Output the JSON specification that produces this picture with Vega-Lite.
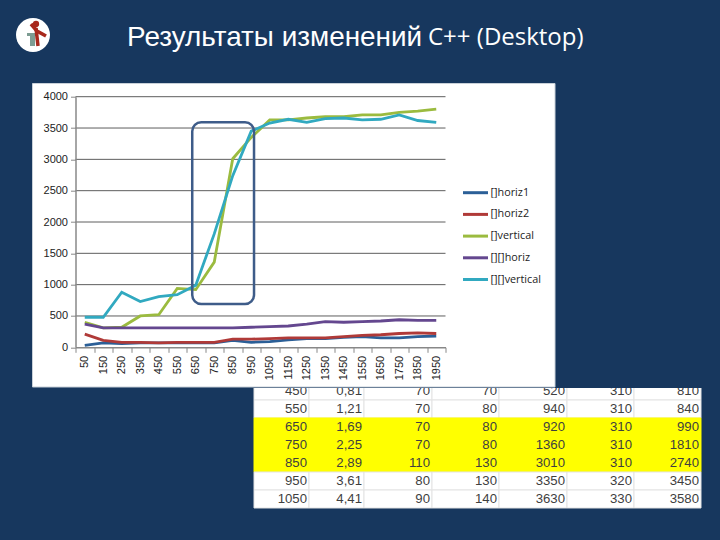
{
"$schema":"https://vega.github.io/schema/vega-lite/v6.json",
"width":370,"height":250.6,"autosize":"none",
"padding":{"left":75.5,"top":96.7,"right":274.5,"bottom":192.7},
"background":"#17375e",
"config":{"view":{"stroke":null}},
"datasets":{
"series":[
{"size":"50","series":"[]horiz1","v":30},{"size":"150","series":"[]horiz1","v":70},{"size":"250","series":"[]horiz1","v":60},{"size":"350","series":"[]horiz1","v":70},{"size":"450","series":"[]horiz1","v":70},{"size":"550","series":"[]horiz1","v":70},{"size":"650","series":"[]horiz1","v":70},{"size":"750","series":"[]horiz1","v":70},{"size":"850","series":"[]horiz1","v":110},{"size":"950","series":"[]horiz1","v":80},{"size":"1050","series":"[]horiz1","v":90},{"size":"1150","series":"[]horiz1","v":120},{"size":"1250","series":"[]horiz1","v":140},{"size":"1350","series":"[]horiz1","v":140},{"size":"1450","series":"[]horiz1","v":160},{"size":"1550","series":"[]horiz1","v":170},{"size":"1650","series":"[]horiz1","v":150},{"size":"1750","series":"[]horiz1","v":150},{"size":"1850","series":"[]horiz1","v":170},{"size":"1950","series":"[]horiz1","v":180},
{"size":"50","series":"[]horiz2","v":210},{"size":"150","series":"[]horiz2","v":110},{"size":"250","series":"[]horiz2","v":80},{"size":"350","series":"[]horiz2","v":80},{"size":"450","series":"[]horiz2","v":70},{"size":"550","series":"[]horiz2","v":80},{"size":"650","series":"[]horiz2","v":80},{"size":"750","series":"[]horiz2","v":80},{"size":"850","series":"[]horiz2","v":130},{"size":"950","series":"[]horiz2","v":130},{"size":"1050","series":"[]horiz2","v":140},{"size":"1150","series":"[]horiz2","v":150},{"size":"1250","series":"[]horiz2","v":150},{"size":"1350","series":"[]horiz2","v":150},{"size":"1450","series":"[]horiz2","v":170},{"size":"1550","series":"[]horiz2","v":190},{"size":"1650","series":"[]horiz2","v":200},{"size":"1750","series":"[]horiz2","v":220},{"size":"1850","series":"[]horiz2","v":230},{"size":"1950","series":"[]horiz2","v":220},
{"size":"50","series":"[]vertical","v":400},{"size":"150","series":"[]vertical","v":310},{"size":"250","series":"[]vertical","v":320},{"size":"350","series":"[]vertical","v":500},{"size":"450","series":"[]vertical","v":520},{"size":"550","series":"[]vertical","v":940},{"size":"650","series":"[]vertical","v":920},{"size":"750","series":"[]vertical","v":1360},{"size":"850","series":"[]vertical","v":3010},{"size":"950","series":"[]vertical","v":3350},{"size":"1050","series":"[]vertical","v":3630},{"size":"1150","series":"[]vertical","v":3630},{"size":"1250","series":"[]vertical","v":3660},{"size":"1350","series":"[]vertical","v":3680},{"size":"1450","series":"[]vertical","v":3680},{"size":"1550","series":"[]vertical","v":3710},{"size":"1650","series":"[]vertical","v":3710},{"size":"1750","series":"[]vertical","v":3750},{"size":"1850","series":"[]vertical","v":3770},{"size":"1950","series":"[]vertical","v":3800},
{"size":"50","series":"[][]horiz","v":370},{"size":"150","series":"[][]horiz","v":310},{"size":"250","series":"[][]horiz","v":310},{"size":"350","series":"[][]horiz","v":310},{"size":"450","series":"[][]horiz","v":310},{"size":"550","series":"[][]horiz","v":310},{"size":"650","series":"[][]horiz","v":310},{"size":"750","series":"[][]horiz","v":310},{"size":"850","series":"[][]horiz","v":310},{"size":"950","series":"[][]horiz","v":320},{"size":"1050","series":"[][]horiz","v":330},{"size":"1150","series":"[][]horiz","v":340},{"size":"1250","series":"[][]horiz","v":370},{"size":"1350","series":"[][]horiz","v":410},{"size":"1450","series":"[][]horiz","v":400},{"size":"1550","series":"[][]horiz","v":410},{"size":"1650","series":"[][]horiz","v":420},{"size":"1750","series":"[][]horiz","v":440},{"size":"1850","series":"[][]horiz","v":430},{"size":"1950","series":"[][]horiz","v":430},
{"size":"50","series":"[][]vertical","v":480},{"size":"150","series":"[][]vertical","v":480},{"size":"250","series":"[][]vertical","v":880},{"size":"350","series":"[][]vertical","v":730},{"size":"450","series":"[][]vertical","v":810},{"size":"550","series":"[][]vertical","v":840},{"size":"650","series":"[][]vertical","v":990},{"size":"750","series":"[][]vertical","v":1810},{"size":"850","series":"[][]vertical","v":2740},{"size":"950","series":"[][]vertical","v":3450},{"size":"1050","series":"[][]vertical","v":3580},{"size":"1150","series":"[][]vertical","v":3640},{"size":"1250","series":"[][]vertical","v":3590},{"size":"1350","series":"[][]vertical","v":3650},{"size":"1450","series":"[][]vertical","v":3660},{"size":"1550","series":"[][]vertical","v":3630},{"size":"1650","series":"[][]vertical","v":3640},{"size":"1750","series":"[][]vertical","v":3710},{"size":"1850","series":"[][]vertical","v":3620},{"size":"1950","series":"[][]vertical","v":3590}
],
"table":[
{"size":"450","col":0,"end":1,"t":"450"},{"size":"450","col":1,"end":2,"t":"0,81"},{"size":"450","col":2,"end":3,"t":"70"},{"size":"450","col":3,"end":4,"t":"70"},{"size":"450","col":4,"end":5,"t":"520"},{"size":"450","col":5,"end":6,"t":"310"},{"size":"450","col":6,"end":7,"t":"810"},
{"size":"550","col":0,"end":1,"t":"550"},{"size":"550","col":1,"end":2,"t":"1,21"},{"size":"550","col":2,"end":3,"t":"70"},{"size":"550","col":3,"end":4,"t":"80"},{"size":"550","col":4,"end":5,"t":"940"},{"size":"550","col":5,"end":6,"t":"310"},{"size":"550","col":6,"end":7,"t":"840"},
{"size":"650","col":0,"end":1,"t":"650","hl":true},{"size":"650","col":1,"end":2,"t":"1,69","hl":true},{"size":"650","col":2,"end":3,"t":"70","hl":true},{"size":"650","col":3,"end":4,"t":"80","hl":true},{"size":"650","col":4,"end":5,"t":"920","hl":true},{"size":"650","col":5,"end":6,"t":"310","hl":true},{"size":"650","col":6,"end":7,"t":"990","hl":true},
{"size":"750","col":0,"end":1,"t":"750","hl":true},{"size":"750","col":1,"end":2,"t":"2,25","hl":true},{"size":"750","col":2,"end":3,"t":"70","hl":true},{"size":"750","col":3,"end":4,"t":"80","hl":true},{"size":"750","col":4,"end":5,"t":"1360","hl":true},{"size":"750","col":5,"end":6,"t":"310","hl":true},{"size":"750","col":6,"end":7,"t":"1810","hl":true},
{"size":"850","col":0,"end":1,"t":"850","hl":true},{"size":"850","col":1,"end":2,"t":"2,89","hl":true},{"size":"850","col":2,"end":3,"t":"110","hl":true},{"size":"850","col":3,"end":4,"t":"130","hl":true},{"size":"850","col":4,"end":5,"t":"3010","hl":true},{"size":"850","col":5,"end":6,"t":"310","hl":true},{"size":"850","col":6,"end":7,"t":"2740","hl":true},
{"size":"950","col":0,"end":1,"t":"950"},{"size":"950","col":1,"end":2,"t":"3,61"},{"size":"950","col":2,"end":3,"t":"80"},{"size":"950","col":3,"end":4,"t":"130"},{"size":"950","col":4,"end":5,"t":"3350"},{"size":"950","col":5,"end":6,"t":"320"},{"size":"950","col":6,"end":7,"t":"3450"},
{"size":"1050","col":0,"end":1,"t":"1050"},{"size":"1050","col":1,"end":2,"t":"4,41"},{"size":"1050","col":2,"end":3,"t":"90"},{"size":"1050","col":3,"end":4,"t":"140"},{"size":"1050","col":4,"end":5,"t":"3630"},{"size":"1050","col":5,"end":6,"t":"330"},{"size":"1050","col":6,"end":7,"t":"3580"}
]
},
"resolve":{"scale":{"x":"independent","y":"independent","color":"independent"}},
"layer":[
{"data":{"name":"table"},"mark":{"type":"rect"},
 "encoding":{
  "x":{"field":"col","type":"quantitative","axis":null,"scale":{"domain":[0,1,2,3,4,5,6,7],"range":[178.5,233.5,288.5,356.5,423.5,491.5,558.5,625.5]}},
  "x2":{"field":"end"},
  "y":{"field":"size","type":"nominal","axis":null,"sort":null,"scale":{"type":"band","domain":["450","550","650","750","850","950","1050"],"range":[285.3,411.3],"paddingInner":0,"paddingOuter":0}},
  "fill":{"condition":{"test":"datum.hl","value":"#ffff00"},"value":"#ffffff"},
  "stroke":{"condition":{"test":"datum.hl","value":"#ffff00"},"value":"#e3e3e3"}}},
{"data":{"name":"table"},"mark":{"type":"text","align":"right","baseline":"middle","dx":-2,"font":"Liberation Sans","fontSize":13.2,"color":"#3f3f3f"},
 "encoding":{
  "x":{"field":"end","type":"quantitative","axis":null,"scale":{"domain":[0,1,2,3,4,5,6,7],"range":[178.5,233.5,288.5,356.5,423.5,491.5,558.5,625.5]}},
  "y":{"field":"size","type":"nominal","axis":null,"sort":null,"scale":{"type":"band","domain":["450","550","650","750","850","950","1050"],"range":[285.3,411.3],"paddingInner":0,"paddingOuter":0}},
  "text":{"field":"t"}}},
{"data":{"values":[{"a":0,"b":720,"c":370,"d":388}]},"mark":{"type":"rect","fill":"#17375e"},
 "encoding":{"x":{"field":"a","type":"quantitative","axis":null,"scale":{"domain":[0,720],"range":[-75.5,644.5]}},"x2":{"field":"b"},"y":{"field":"c","type":"quantitative","axis":null,"scale":{"domain":[0,540],"range":[-96.7,443.3]}},"y2":{"field":"d"}}},
{"data":{"values":[{"a":32.5,"b":555,"c":83.5,"d":387}]},"mark":{"type":"rect","fill":"#ffffff","stroke":"#c8d0d8","strokeWidth":1},
 "encoding":{"x":{"field":"a","type":"quantitative","axis":null,"scale":{"domain":[0,720],"range":[-75.5,644.5]}},"x2":{"field":"b"},"y":{"field":"c","type":"quantitative","axis":null,"scale":{"domain":[0,540],"range":[-96.7,443.3]}},"y2":{"field":"d"}}},
{"data":{"values":[{"x":33,"y":35}]},"mark":{"type":"point","filled":true,"fill":"#ffffff","stroke":null,"opacity":1,"size":1156},
 "encoding":{"x":{"field":"x","type":"quantitative","axis":null,"scale":{"domain":[0,720],"range":[-75.5,644.5]}},"y":{"field":"y","type":"quantitative","axis":null,"scale":{"domain":[0,540],"range":[-96.7,443.3]}}}},
{"data":{"values":[{"a":27,"b":37,"c":33,"d":36},{"a":30,"b":35,"c":36,"d":46}]},"mark":{"type":"rect","fill":"#7d9c92"},
 "encoding":{"x":{"field":"a","type":"quantitative","axis":null,"scale":{"domain":[0,720],"range":[-75.5,644.5]}},"x2":{"field":"b"},"y":{"field":"c","type":"quantitative","axis":null,"scale":{"domain":[0,540],"range":[-96.7,443.3]}},"y2":{"field":"d"}}},
{"data":{"values":[{"x":36,"y":28,"k":"a"},{"x":38,"y":46,"k":"a"},{"x":31,"y":24,"k":"b"},{"x":37,"y":31,"k":"b"},{"x":46,"y":36,"k":"b"}]},"mark":{"type":"line","color":"#a8281c","strokeWidth":3.5},
 "encoding":{"detail":{"field":"k"},"x":{"field":"x","type":"quantitative","axis":null,"scale":{"domain":[0,720],"range":[-75.5,644.5]}},"y":{"field":"y","type":"quantitative","axis":null,"scale":{"domain":[0,540],"range":[-96.7,443.3]}}}},
{"data":{"values":[{"x":36,"y":24}]},"mark":{"type":"point","filled":true,"fill":"#a8281c","stroke":null,"opacity":1,"size":40},
 "encoding":{"x":{"field":"x","type":"quantitative","axis":null,"scale":{"domain":[0,720],"range":[-75.5,644.5]}},"y":{"field":"y","type":"quantitative","axis":null,"scale":{"domain":[0,540],"range":[-96.7,443.3]}}}},
{"data":{"values":[{"x":127,"y":38,"t":"Результаты изменений"}]},"mark":{"type":"text","align":"left","baseline":"middle","font":"Liberation Sans","fontSize":27.9,"color":"#ffffff"},
 "encoding":{"x":{"field":"x","type":"quantitative","axis":null,"scale":{"domain":[0,720],"range":[-75.5,644.5]}},"y":{"field":"y","type":"quantitative","axis":null,"scale":{"domain":[0,540],"range":[-96.7,443.3]}},"text":{"field":"t"}}},
{"data":{"values":[{"x":428,"y":38,"t":"C++ (Desktop)"}]},"mark":{"type":"text","align":"left","baseline":"middle","font":"Open Sans","fontSize":24,"color":"#ffffff"},
 "encoding":{"x":{"field":"x","type":"quantitative","axis":null,"scale":{"domain":[0,720],"range":[-75.5,644.5]}},"y":{"field":"y","type":"quantitative","axis":null,"scale":{"domain":[0,540],"range":[-96.7,443.3]}},"text":{"field":"t"}}},
{"data":{"values":[{"g":500},{"g":1000},{"g":1500},{"g":2000},{"g":2500},{"g":3000},{"g":3500},{"g":4000}]},"mark":{"type":"rule","color":"#5e5e5e","strokeWidth":1},
 "encoding":{"y":{"field":"g","type":"quantitative","axis":null,"scale":{"domain":[0,4000],"nice":false}}}},
{"data":{"name":"series"},"mark":{"type":"line","strokeWidth":2.8},
 "encoding":{
  "x":{"field":"size","type":"ordinal","sort":null,"scale":{"type":"band","paddingInner":0,"paddingOuter":0},"title":null,
   "axis":{"labelAngle":270,"tickBand":"extent","labelFont":"Liberation Sans","labelFontSize":11,"labelColor":"#222222","domainColor":"#888888","domainWidth":1.5,"tickColor":"#888888","tickSize":5,"labelPadding":3,"labelOverlap":false,"grid":false,"zindex":1}},
  "y":{"field":"v","type":"quantitative","scale":{"domain":[0,4000],"nice":false},"title":null,
   "axis":{"values":[0,500,1000,1500,2000,2500,3000,3500,4000],"format":"d","labelFont":"Liberation Sans","labelFontSize":11,"labelColor":"#222222","domainColor":"#888888","domainWidth":1.5,"tickColor":"#888888","tickSize":5,"labelPadding":3,"grid":false,"zindex":1}},
  "color":{"field":"series","type":"nominal","sort":null,
   "scale":{"domain":["[]horiz1","[]horiz2","[]vertical","[][]horiz","[][]vertical"],"range":["#2b5f97","#b03a38","#9bbb3f","#64478f","#31a9c0"]},
   "legend":{"title":null,"orient":"none","legendX":386,"legendY":82,"symbolType":"stroke","symbolSize":625,"symbolStrokeWidth":3,"labelFont":"Open Sans","labelFontSize":10.8,"labelColor":"#222222","rowPadding":1.7,"labelOffset":1}},
  "order":{"field":"series"}
 }},
{"data":{"values":[{"a":631,"b":965,"c":3591,"d":691}]},"mark":{"type":"rect","fill":null,"stroke":"#3e5c89","strokeWidth":2.5,"cornerRadius":9},
 "encoding":{"x":{"field":"a","type":"quantitative","axis":null,"scale":{"domain":[0,2000]}},"x2":{"field":"b"},"y":{"field":"c","type":"quantitative","axis":null,"scale":{"domain":[0,4000]}},"y2":{"field":"d"}}}
]
}
